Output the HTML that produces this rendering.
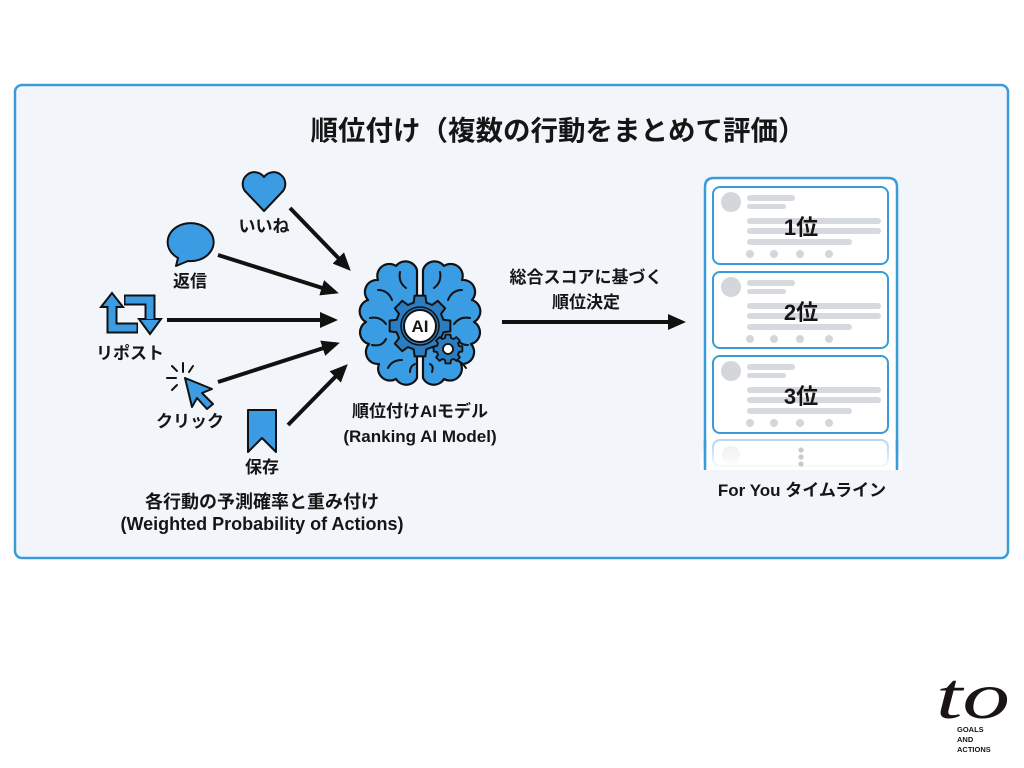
<!DOCTYPE html>
<html lang="ja">
<head>
<meta charset="utf-8">
<style>
  html,body{margin:0;padding:0;background:#ffffff;}
  body{width:1024px;height:768px;overflow:hidden;}
  svg{display:block;}
  text{font-family:"Liberation Sans","Noto Sans CJK JP",sans-serif;font-weight:bold;fill:#151515;}
</style>
</head>
<body>
<svg width="1024" height="768" viewBox="0 0 1024 768" xmlns="http://www.w3.org/2000/svg">
  <defs>
    <marker id="ah" markerUnits="userSpaceOnUse" markerWidth="18" markerHeight="16" refX="14" refY="8" orient="auto">
      <path d="M0,0 L18,8 L0,16 z" fill="#111"/>
    </marker>
    <linearGradient id="fade" x1="0" y1="0" x2="0" y2="1">
      <stop offset="0" stop-color="#ffffff" stop-opacity="0"/>
      <stop offset="1" stop-color="#ffffff" stop-opacity="1"/>
    </linearGradient>
    <g id="gear">
      <polygon points="21.3,-5.7 27.6,-4.9 27.6,4.9 21.3,5.7 19.1,11 22.9,16.1 16.1,22.9 11,19.1 5.7,21.3 4.9,27.6 -4.9,27.6 -5.7,21.3 -11,19.1 -16.1,22.9 -22.9,16.1 -19.1,11 -21.3,5.7 -27.6,4.9 -27.6,-4.9 -21.3,-5.7 -19.1,-11 -22.9,-16.1 -16.1,-22.9 -11,-19.1 -5.7,-21.3 -4.9,-27.6 4.9,-27.6 5.7,-21.3 11,-19.1 16.1,-22.9 22.9,-16.1 19.1,-11"/>
    </g>
  </defs>

  <!-- outer box -->
  <rect x="15" y="85" width="993" height="473" rx="7" fill="#f2f6fa" stroke="#3a9bd8" stroke-width="2.5"/>

  <!-- title -->
  <text x="558" y="140" font-size="27.5" text-anchor="middle">順位付け（複数の行動をまとめて評価）</text>

  <!-- heart -->
  <path d="M264,211 L245,191 A11.5,11.5 0 1 1 264,177 A11.5,11.5 0 1 1 283,191 Z" fill="#3b9be3" stroke="#111" stroke-width="2" stroke-linejoin="round"/>
  <text x="264" y="232" font-size="17" text-anchor="middle">いいね</text>

  <!-- speech bubble -->
  <path d="M178,258 A23,19 0 1 1 188,261 L176,266 Z" fill="#3b9be3" stroke="#111" stroke-width="2" stroke-linejoin="round"/>
  <text x="190" y="287" font-size="17" text-anchor="middle">返信</text>

  <!-- repost -->
  <g stroke-linejoin="miter" fill="none">
    <polyline points="112,305 112,328 138,328" stroke="#111" stroke-width="11"/>
    <polyline points="124,300 150,300 150,320" stroke="#111" stroke-width="11"/>
    <polygon points="101,307 112,293 123,307" fill="#3b9be3" stroke="#111" stroke-width="2"/>
    <polygon points="139,319 150,334 161,319" fill="#3b9be3" stroke="#111" stroke-width="2"/>
    <polyline points="112,306 112,328 136.5,328" stroke="#3b9be3" stroke-width="7"/>
    <polyline points="125.5,300 150,300 150,319" stroke="#3b9be3" stroke-width="7"/>
  </g>
  <text x="130" y="359" font-size="17" text-anchor="middle">リポスト</text>

  <!-- click -->
  <g stroke="#111" stroke-width="2" stroke-linecap="round">
    <line x1="183" y1="363" x2="183" y2="372"/>
    <line x1="193" y1="366" x2="189" y2="372"/>
    <line x1="167" y1="378" x2="176" y2="378"/>
    <line x1="172" y1="390" x2="177" y2="385"/>
    <line x1="172" y1="366" x2="177" y2="371"/>
  </g>
  <polygon points="185,378 212,389 202,393 213,404 207,409 197,398 192,407" fill="#3b9be3" stroke="#111" stroke-width="2" stroke-linejoin="round"/>
  <text x="190" y="427" font-size="17" text-anchor="middle">クリック</text>

  <!-- bookmark -->
  <polygon points="248,410 276,410 276,452 262,438 248,452" fill="#3b9be3" stroke="#111" stroke-width="2" stroke-linejoin="round"/>
  <text x="262" y="473" font-size="17" text-anchor="middle">保存</text>

  <!-- arrows -->
  <g stroke="#111" stroke-width="4" marker-end="url(#ah)">
    <line x1="290" y1="208" x2="348" y2="268"/>
    <line x1="218" y1="255" x2="335" y2="292"/>
    <line x1="167" y1="320" x2="334" y2="320"/>
    <line x1="218" y1="382" x2="336" y2="344"/>
    <line x1="288" y1="425" x2="345" y2="367"/>
    <line x1="502" y1="322" x2="682" y2="322"/>
  </g>

  <!-- bottom-left label -->
  <text x="262" y="508" font-size="18" text-anchor="middle">各行動の予測確率と重み付け</text>
  <text x="262" y="530" font-size="18" text-anchor="middle">(Weighted Probability of Actions)</text>

  <!-- brain -->
  <path d="M417,270 A12,12 0 0 0 396,266 A12,12 0 0 0 378,280 A12,12 0 0 0 368,300 A12,12 0 0 0 366,322 A12,12 0 0 0 369,344 A12,12 0 0 0 379,364 A12,12 0 0 0 396,379 A12,12 0 0 0 417,378 Z" fill="#3a9ce2" stroke="#111" stroke-width="2.2" stroke-linejoin="round"/>
  <path d="M423,270 A12,12 0 0 1 444,266 A12,12 0 0 1 462,280 A12,12 0 0 1 472,300 A12,12 0 0 1 474,322 A12,12 0 0 1 471,344 A12,12 0 0 1 461,364 A12,12 0 0 1 444,379 A12,12 0 0 1 423,378 Z" fill="#3a9ce2" stroke="#111" stroke-width="2.2" stroke-linejoin="round"/>
  <g fill="none" stroke="#111" stroke-width="2" stroke-linecap="round">
    <path d="M378,290 q10,0 14,10"/>
    <path d="M400,272 q-2,10 6,16"/>
    <path d="M370,318 q10,-2 16,6"/>
    <path d="M372,345 q10,2 14,-6"/>
    <path d="M388,368 q4,-8 14,-8"/>
    <path d="M410,372 q0,-6 5,-8"/>
    <path d="M462,290 q-10,0 -14,10"/>
    <path d="M440,272 q2,10 -6,16"/>
    <path d="M470,318 q-10,-2 -16,6"/>
    <path d="M466,368 q-4,-6 -10,-8"/>
    <path d="M468,345 q-8,0 -10,-6"/>
    <path d="M432,372 q2,-6 -2,-8"/>
  </g>
  <!-- main gear -->
  <g transform="translate(420,326) scale(1.1)">
    <use href="#gear" fill="#2b7cc0" stroke="#111" stroke-width="1.8" stroke-linejoin="round"/>
  </g>
  <circle cx="420" cy="326" r="19" fill="#2b7cc0" stroke="#111" stroke-width="1.5"/>
  <circle cx="420" cy="326" r="16" fill="#ffffff" stroke="#111" stroke-width="2"/>
  <text x="420" y="332" font-size="17" text-anchor="middle">AI</text>
  <!-- small gear -->
  <g transform="translate(448,349) scale(0.52)">
    <use href="#gear" fill="#2b7cc0" stroke="#111" stroke-width="3.5" stroke-linejoin="round"/>
  </g>
  <circle cx="448" cy="349" r="5" fill="#ffffff" stroke="#111" stroke-width="1.8"/>

  <text x="420" y="417" font-size="17" text-anchor="middle">順位付けAIモデル</text>
  <text x="420" y="442" font-size="17" text-anchor="middle">(Ranking AI Model)</text>

  <!-- right arrow labels -->
  <text x="586" y="283" font-size="17" text-anchor="middle">総合スコアに基づく</text>
  <text x="586" y="308" font-size="17" text-anchor="middle">順位決定</text>

  <!-- timeline frame -->
  <path d="M705,470 L705,187 Q705,178 714,178 L888,178 Q897,178 897,187 L897,470" fill="#ffffff" stroke="#3a9bd8" stroke-width="2.5"/>

  <!-- card 1 -->
  <g>
    <rect x="713" y="187" width="175" height="77" rx="7" fill="#fff" stroke="#3a9bd8" stroke-width="2"/>
    <circle cx="731" cy="202" r="10" fill="#d3d6da"/>
    <rect x="747" y="195" width="48" height="6" rx="3" fill="#d6d9dd"/>
    <rect x="747" y="204" width="39" height="5" rx="2.5" fill="#d6d9dd"/>
    <rect x="747" y="218" width="134" height="6" rx="3" fill="#d6d9dd"/>
    <rect x="747" y="228" width="134" height="6" rx="3" fill="#d6d9dd"/>
    <rect x="747" y="239" width="105" height="6" rx="3" fill="#d6d9dd"/>
    <circle cx="750" cy="254" r="4" fill="#d3d6da"/><circle cx="774" cy="254" r="4" fill="#d3d6da"/><circle cx="800" cy="254" r="4" fill="#d3d6da"/><circle cx="829" cy="254" r="4" fill="#d3d6da"/>
    <text x="801" y="235" font-size="22" text-anchor="middle">1位</text>
  </g>
  <!-- card 2 -->
  <g>
    <rect x="713" y="272" width="175" height="76" rx="7" fill="#fff" stroke="#3a9bd8" stroke-width="2"/>
    <circle cx="731" cy="287" r="10" fill="#d3d6da"/>
    <rect x="747" y="280" width="48" height="6" rx="3" fill="#d6d9dd"/>
    <rect x="747" y="289" width="39" height="5" rx="2.5" fill="#d6d9dd"/>
    <rect x="747" y="303" width="134" height="6" rx="3" fill="#d6d9dd"/>
    <rect x="747" y="313" width="134" height="6" rx="3" fill="#d6d9dd"/>
    <rect x="747" y="324" width="105" height="6" rx="3" fill="#d6d9dd"/>
    <circle cx="750" cy="339" r="4" fill="#d3d6da"/><circle cx="774" cy="339" r="4" fill="#d3d6da"/><circle cx="800" cy="339" r="4" fill="#d3d6da"/><circle cx="829" cy="339" r="4" fill="#d3d6da"/>
    <text x="801" y="320" font-size="22" text-anchor="middle">2位</text>
  </g>
  <!-- card 3 -->
  <g>
    <rect x="713" y="356" width="175" height="77" rx="7" fill="#fff" stroke="#3a9bd8" stroke-width="2"/>
    <circle cx="731" cy="371" r="10" fill="#d3d6da"/>
    <rect x="747" y="364" width="48" height="6" rx="3" fill="#d6d9dd"/>
    <rect x="747" y="373" width="39" height="5" rx="2.5" fill="#d6d9dd"/>
    <rect x="747" y="387" width="134" height="6" rx="3" fill="#d6d9dd"/>
    <rect x="747" y="397" width="134" height="6" rx="3" fill="#d6d9dd"/>
    <rect x="747" y="408" width="105" height="6" rx="3" fill="#d6d9dd"/>
    <circle cx="750" cy="423" r="4" fill="#d3d6da"/><circle cx="774" cy="423" r="4" fill="#d3d6da"/><circle cx="800" cy="423" r="4" fill="#d3d6da"/><circle cx="829" cy="423" r="4" fill="#d3d6da"/>
    <text x="801" y="404" font-size="22" text-anchor="middle">3位</text>
  </g>
  <!-- faded card 4 -->
  <rect x="713" y="440" width="175" height="26" rx="7" fill="#fff" stroke="#b5d9f0" stroke-width="2"/>
  <circle cx="731" cy="455" r="9" fill="#eef0f2"/>
  <rect x="700" y="444" width="202" height="26" fill="url(#fade)"/>
  <circle cx="801" cy="450" r="2.6" fill="#c6cace"/>
  <circle cx="801" cy="457" r="2.6" fill="#c6cace"/>
  <circle cx="801" cy="464" r="2.6" fill="#c6cace"/>
  <line x1="705" y1="440" x2="705" y2="470" stroke="#3a9bd8" stroke-width="2.5"/>
  <line x1="897" y1="440" x2="897" y2="470" stroke="#3a9bd8" stroke-width="2.5"/>
  <rect x="700" y="470" width="202" height="8" fill="#f2f6fa"/>

  <text x="802" y="496" font-size="17" text-anchor="middle">For You タイムライン</text>

  <!-- logo -->
  <text x="936" y="718" font-size="66" font-style="italic" textLength="74" lengthAdjust="spacingAndGlyphs" style="font-weight:normal;font-family:'Liberation Serif',serif;fill:#1a1414;">to</text>
  <text x="957" y="732" font-size="7.5" style="font-family:'Liberation Sans',sans-serif;fill:#1a1414;">GOALS</text>
  <text x="957" y="742" font-size="7.5" style="font-family:'Liberation Sans',sans-serif;fill:#1a1414;">AND</text>
  <text x="957" y="752" font-size="7.5" style="font-family:'Liberation Sans',sans-serif;fill:#1a1414;">ACTIONS</text>
</svg>
</body>
</html>
